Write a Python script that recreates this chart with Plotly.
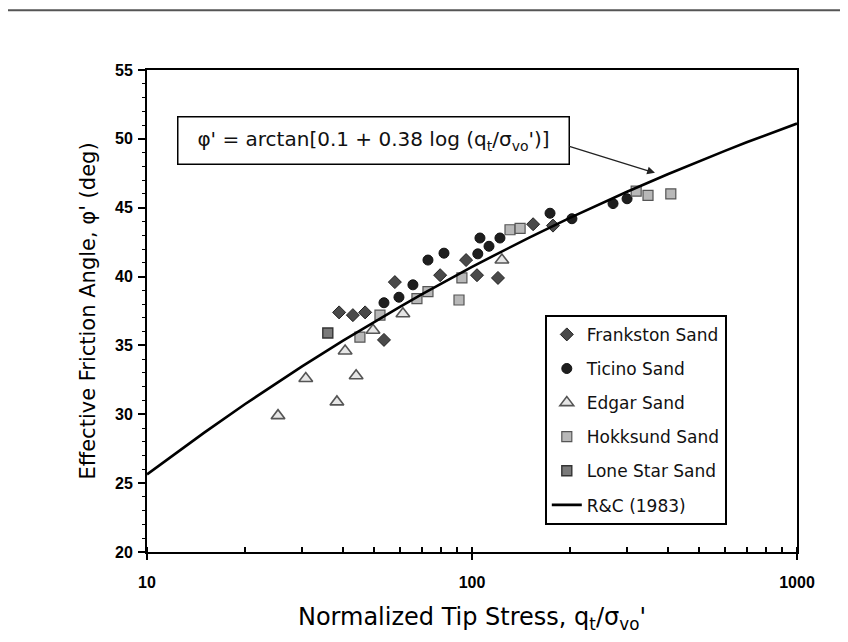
import plotly.graph_objects as go

# ---- data ----
frankston_x = [39.0, 43.0, 46.9, 53.6, 57.9, 79.8, 95.9, 103.6, 120.2, 154.2, 177.5]
frankston_y = [37.4, 37.2, 37.4, 35.4, 39.6, 40.1, 41.2, 40.1, 39.9, 43.8, 43.7]

ticino_x = [53.6, 59.6, 65.8, 73.2, 82.0, 104.2, 105.8, 112.8, 121.9, 173.8, 203.0, 271.6, 300.0]
ticino_y = [38.1, 38.5, 39.4, 41.2, 41.7, 41.65, 42.8, 42.2, 42.8, 44.6, 44.2, 45.3, 45.65]

edgar_x = [25.3, 30.8, 38.4, 40.7, 44.0, 49.6, 61.3, 123.6]
edgar_y = [29.9, 32.6, 30.9, 34.6, 32.8, 36.1, 37.3, 41.2]

hokksund_x = [45.2, 52.1, 67.7, 73.2, 91.2, 93.1, 130.9, 140.6, 320.0, 348.0, 409.0]
hokksund_y = [35.6, 37.2, 38.4, 38.9, 38.3, 39.9, 43.4, 43.5, 46.2, 45.9, 46.0]

lonestar_x = [36.0]
lonestar_y = [35.9]

# R&C (1983) curve, tabulated
rc_x = [10, 12, 15, 20, 25, 30, 40, 50, 60, 70, 80, 100, 120, 150, 200,
        250, 300, 400, 500, 600, 700, 800, 1000]
rc_y = [25.64, 27.02, 28.67, 30.73, 32.26, 33.48, 35.33, 36.71, 37.80, 38.70,
        39.46, 40.70, 41.67, 42.83, 44.26, 45.32, 46.16, 47.43, 48.38, 49.13,
        49.75, 50.27, 51.11]

x_tickvals = [10, 100, 1000]
x_ticktext = ["10", "100", "1000"]
y_tickvals = [20, 25, 30, 35, 40, 45, 50, 55]

TXT_FONT = "DejaVu Sans"
TICK_FONT = "Liberation Sans Narrow, Liberation Sans, Arial"

fig = go.Figure()

fig.add_trace(go.Scatter(
    x=frankston_x, y=frankston_y, mode="markers", name="Frankston Sand",
    legendgroup="a",
    marker=dict(symbol="diamond", size=10, color="#4a4a4a", line=dict(color="#222", width=1))))
fig.add_trace(go.Scatter(
    x=ticino_x, y=ticino_y, mode="markers", name="Ticino Sand",
    legendgroup="b",
    marker=dict(symbol="circle", size=10, color="#1e1e1e", line=dict(color="#111", width=1))))
fig.add_trace(go.Scatter(
    x=edgar_x, y=edgar_y, mode="markers", name="Edgar Sand",
    legendgroup="c",
    marker=dict(symbol="triangle-up", size=12, color="#e6e6e6", line=dict(color="#555", width=1.6))))
fig.add_trace(go.Scatter(
    x=hokksund_x, y=hokksund_y, mode="markers", name="Hokksund Sand",
    legendgroup="d",
    marker=dict(symbol="square", size=10, color="#b8b8b8", line=dict(color="#555", width=1.2))))
fig.add_trace(go.Scatter(
    x=lonestar_x, y=lonestar_y, mode="markers", name="Lone Star Sand",
    legendgroup="e",
    marker=dict(symbol="square", size=10, color="#7a7a7a", line=dict(color="#333", width=1.4))))
fig.add_trace(go.Scatter(
    x=rc_x, y=rc_y, mode="lines", name="R&C (1983)",
    legendgroup="f", line=dict(color="black", width=2.6)))

fig.update_layout(
    width=840, height=634,
    margin=dict(l=139, r=51, t=62, b=90),
    paper_bgcolor="white", plot_bgcolor="white",
    font=dict(family=TXT_FONT, color="black"),
    showlegend=True,
    legend=dict(
        x=0.612, y=0.492, xanchor="left", yanchor="top",
        bgcolor="white", bordercolor="black", borderwidth=2,
        font=dict(family=TXT_FONT, size=17, color="#111"),
        tracegroupgap=9, itemwidth=30,
    ),
)

fig.update_xaxes(
    type="log", range=[1, 3],
    tickvals=x_tickvals, ticktext=x_ticktext,
    ticks="outside", ticklen=6, tickwidth=2, tickcolor="black",
    tickfont=dict(family=TICK_FONT, size=16, weight="bold"),
    ticklabelstandoff=9,
    minor=dict(ticks="inside", ticklen=5, tickwidth=1.5, tickcolor="black", dtick="D1"),
    showline=True, linecolor="black", linewidth=2, mirror=True,
    showgrid=False, zeroline=False,
    title=dict(text="Normalized Tip Stress, q<sub>t</sub>/σ<sub>vo</sub>'",
               font=dict(family=TXT_FONT, size=24), standoff=18),
)
fig.update_yaxes(
    range=[20, 55],
    tickvals=y_tickvals,
    ticks="outside", ticklen=7, tickwidth=2, tickcolor="black",
    tickfont=dict(family=TICK_FONT, size=16, weight="bold"),
    ticklabelstandoff=2,
    minor=dict(ticks="outside", ticklen=3, tickwidth=1, tickcolor="black", dtick=1),
    showline=True, linecolor="black", linewidth=2, mirror=True,
    showgrid=False, zeroline=False,
    title=dict(text="Effective Friction Angle, φ' (deg)",
               font=dict(family=TXT_FONT, size=21), standoff=14),
)

# equation box
fig.add_annotation(
    xref="paper", yref="paper", x=0.349, y=0.853,
    xanchor="center", yanchor="middle",
    text="φ' = arctan[0.1 + 0.38 log (q<sub>t</sub>/σ<sub>vo</sub>')]",
    showarrow=False, font=dict(family=TXT_FONT, size=20, color="#111"),
    bgcolor="white", bordercolor="black", borderwidth=1.5,
    width=388, height=44, borderpad=1, align="center",
)
# arrow from the box to the curve
fig.add_annotation(
    xref="x", yref="y", axref="x", ayref="y",
    x=2.563, y=47.53, ax=2.295, ay=49.49,
    text="", showarrow=True, arrowhead=2, arrowsize=1.2, arrowwidth=1.3,
    arrowcolor="#222", standoff=0, startstandoff=0,
)

# scan border line at top of the figure
fig.add_shape(type="line", xref="paper", yref="paper",
              x0=-0.23, x1=1.08, y0=1.124, y1=1.124,
              line=dict(color="#555", width=2))

fig.write_html("out.html")
